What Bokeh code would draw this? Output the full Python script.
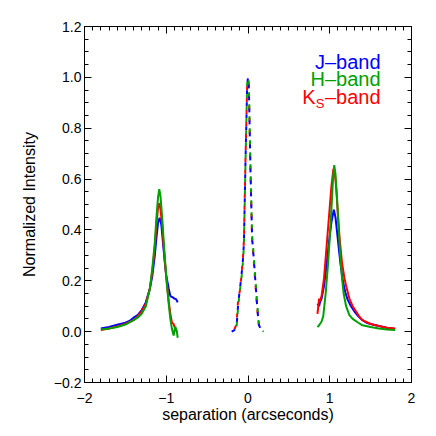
from bokeh.plotting import figure
from bokeh.models import (Range1d, LinearAxis, FixedTicker, Label,
                          CustomJSTickFormatter)
from bokeh.embed import file_html
from bokeh.resources import INLINE

# ---------------- data ----------------
# left companion (around -1.07")
sep_left_J = [-1.80, -1.70, -1.60, -1.50, -1.45, -1.40, -1.35, -1.30, -1.25, -1.20, -1.17, -1.14,
              -1.12, -1.10, -1.08, -1.06, -1.04, -1.02, -1.00, -0.97, -0.95, -0.92, -0.90, -0.88, -0.86]
int_left_J = [0.012, 0.018, 0.027, 0.035, 0.042, 0.055, 0.065, 0.085, 0.115, 0.17, 0.22, 0.30,
              0.37, 0.43, 0.448, 0.42, 0.35, 0.28, 0.22, 0.17, 0.14, 0.135, 0.13, 0.128, 0.115]
sep_left_H = [-1.80, -1.70, -1.60, -1.50, -1.40, -1.35, -1.30, -1.25, -1.20, -1.17, -1.14, -1.12,
              -1.10, -1.085, -1.07, -1.05, -1.03, -1.01, -0.99, -0.97, -0.95, -0.93, -0.91, -0.89, -0.87, -0.86]
int_left_H = [0.008, 0.012, 0.018, 0.028, 0.045, 0.055, 0.07, 0.10, 0.17, 0.25, 0.35, 0.45,
              0.53, 0.56, 0.53, 0.45, 0.35, 0.26, 0.18, 0.11, 0.05, 0.01, -0.015, 0.02, 0.0, -0.024]
sep_left_K = [-1.80, -1.70, -1.60, -1.50, -1.40, -1.35, -1.30, -1.25, -1.20, -1.17, -1.14, -1.12,
              -1.10, -1.085, -1.07, -1.05, -1.03, -1.01, -0.99, -0.97, -0.95, -0.93, -0.91, -0.89, -0.87]
int_left_K = [0.006, 0.012, 0.02, 0.03, 0.045, 0.06, 0.08, 0.11, 0.17, 0.24, 0.33, 0.42,
              0.49, 0.505, 0.48, 0.42, 0.33, 0.25, 0.18, 0.12, 0.07, 0.035, 0.03, 0.01, 0.0]

# central star (dashed)
sep_c = [-0.20, -0.17, -0.14, -0.12, -0.10, -0.08, -0.06, -0.05, -0.03, -0.01, 0.0,
         0.01, 0.03, 0.05, 0.07, 0.09, 0.11, 0.13, 0.16, 0.19]
int_c_J = [0.0, 0.005, 0.02, 0.11, 0.165, 0.22, 0.29, 0.35, 0.68, 0.97, 1.0,
           0.97, 0.64, 0.37, 0.29, 0.20, 0.11, 0.03, 0.005, 0.0]
int_c_H = [0.0, 0.004, 0.02, 0.10, 0.16, 0.21, 0.28, 0.34, 0.67, 0.98, 1.0,
           0.98, 0.66, 0.38, 0.30, 0.21, 0.12, 0.04, 0.01, 0.0]
int_c_K = [0.0, 0.006, 0.03, 0.13, 0.16, 0.22, 0.30, 0.36, 0.69, 0.97, 0.99,
           0.96, 0.63, 0.36, 0.28, 0.19, 0.10, 0.03, 0.005, 0.0]

# right companion (around +1.05")
sep_right_J = [0.85, 0.87, 0.88, 0.90, 0.93, 0.96, 0.99, 1.02, 1.05, 1.07, 1.10, 1.13, 1.16,
               1.19, 1.22, 1.26, 1.30, 1.35, 1.40, 1.45, 1.50, 1.60, 1.70, 1.80]
int_right_J = [0.11, 0.10, 0.115, 0.13, 0.18, 0.26, 0.35, 0.43, 0.48, 0.45, 0.36, 0.27, 0.20,
               0.155, 0.125, 0.10, 0.08, 0.06, 0.045, 0.035, 0.03, 0.022, 0.015, 0.01]
sep_right_H = [0.85, 0.87, 0.90, 0.92, 0.95, 0.98, 1.00, 1.02, 1.04, 1.055, 1.07, 1.09, 1.11,
               1.13, 1.15, 1.17, 1.20, 1.24, 1.28, 1.35, 1.40, 1.50, 1.60, 1.70, 1.80]
int_right_H = [0.018, 0.025, 0.04, 0.06, 0.15, 0.27, 0.37, 0.48, 0.60, 0.655, 0.62, 0.52, 0.40,
               0.29, 0.21, 0.15, 0.10, 0.065, 0.05, 0.035, 0.025, 0.018, 0.012, 0.008, 0.006]
sep_right_K = [0.85, 0.86, 0.87, 0.88, 0.90, 0.93, 0.96, 0.99, 1.02, 1.045, 1.06, 1.08, 1.10,
               1.12, 1.15, 1.18, 1.20, 1.24, 1.28, 1.32, 1.36, 1.40, 1.50, 1.60, 1.70, 1.80]
int_right_K = [0.07, 0.10, 0.13, 0.12, 0.14, 0.21, 0.33, 0.45, 0.57, 0.64, 0.63, 0.56, 0.46,
               0.37, 0.27, 0.21, 0.18, 0.13, 0.10, 0.08, 0.06, 0.045, 0.03, 0.022, 0.015, 0.012]

x_ticks = [-2, -1, 0, 1, 2]
y_ticks = [-0.2, 0.0, 0.2, 0.4, 0.6, 0.8, 1.0, 1.2]
x_minor = [round(-2 + 0.1 * i, 2) for i in range(41)]
y_minor = [round(-0.2 + 0.05 * i, 3) for i in range(29)]

BLUE = "#0000ff"
GREEN = "#00a000"
RED = "#ff0000"
FONT = "Liberation Sans"

# ---------------- figure ----------------
p = figure(width=436, height=436, output_backend="svg", toolbar_location=None,
           x_range=Range1d(x_ticks[0], x_ticks[-1]), y_range=Range1d(y_ticks[0], y_ticks[-1]),
           min_border_left=84, min_border_right=25, min_border_top=26, min_border_bottom=54)
p.grid.visible = False
p.outline_line_color = "black"
p.outline_line_width = 1
p.background_fill_color = "white"
p.border_fill_color = "white"

xfmt = CustomJSTickFormatter(code="return (tick < 0 ? '\u2212' : '') + Math.abs(tick).toFixed(0);")
yfmt = CustomJSTickFormatter(code="return (tick < -1e-9 ? '\u2212' : '') + Math.abs(tick).toFixed(1);")
blankfmt = CustomJSTickFormatter(code="return '';")


def style_axis(ax):
    ax.axis_line_color = "black"
    ax.major_tick_in = 7
    ax.major_tick_out = 0
    ax.minor_tick_in = 4
    ax.minor_tick_out = 0
    ax.major_tick_line_color = "black"
    ax.minor_tick_line_color = "black"
    ax.major_label_text_font = FONT
    ax.major_label_text_font_size = "14px"
    ax.major_label_text_color = "black"
    ax.axis_label_text_font = FONT
    ax.axis_label_text_font_style = "normal"
    ax.axis_label_text_font_size = "16px"
    ax.axis_label_text_color = "black"


p.xaxis.ticker = FixedTicker(ticks=x_ticks, minor_ticks=x_minor)
p.yaxis.ticker = FixedTicker(ticks=y_ticks, minor_ticks=y_minor)
p.xaxis.formatter = xfmt
p.yaxis.formatter = yfmt
p.xaxis.axis_label = "separation (arcseconds)"
p.yaxis.axis_label = "Normalized Intensity"
style_axis(p.xaxis[0])
style_axis(p.yaxis[0])
p.xaxis.major_label_standoff = 10
p.xaxis.axis_label_standoff = 0
p.yaxis.major_label_standoff = 3
p.yaxis.axis_label_standoff = 13

top_ax = LinearAxis(ticker=FixedTicker(ticks=x_ticks, minor_ticks=x_minor), formatter=blankfmt)
right_ax = LinearAxis(ticker=FixedTicker(ticks=y_ticks, minor_ticks=y_minor), formatter=blankfmt)
style_axis(top_ax)
style_axis(right_ax)
top_ax.major_label_standoff = 0
right_ax.major_label_standoff = 0
p.add_layout(top_ax, "above")
p.add_layout(right_ax, "right")

# ---------------- curves ----------------
lw = 2
p.line(sep_left_J, int_left_J, color=BLUE, line_width=lw)
p.line(sep_left_K, int_left_K, color=RED, line_width=lw)
p.line(sep_left_H, int_left_H, color=GREEN, line_width=lw)

p.line(sep_right_J, int_right_J, color=BLUE, line_width=lw)
p.line(sep_right_K, int_right_K, color=RED, line_width=lw)
p.line(sep_right_H, int_right_H, color=GREEN, line_width=lw)

p.line(sep_c, int_c_K, color=RED, line_width=lw, line_dash="4 8", line_dash_offset=8)
p.line(sep_c, int_c_J, color=BLUE, line_width=lw, line_dash="4 8", line_dash_offset=0)
p.line(sep_c, int_c_H, color=GREEN, line_width=lw, line_dash="4 8", line_dash_offset=4)

# ---------------- legend (text) ----------------
leg_x = 1.621
p.add_layout(Label(x=leg_x, y=1.062, text="J\u2013band", text_color=BLUE, text_font=FONT,
                   text_font_size="20px", text_align="right", text_baseline="alphabetic"))
p.add_layout(Label(x=leg_x, y=0.995, text="H\u2013band", text_color=GREEN, text_font=FONT,
                   text_font_size="20px", text_align="right", text_baseline="alphabetic"))
p.add_layout(Label(x=leg_x, y=0.924, text="\u2013band", text_color=RED, text_font=FONT,
                   text_font_size="20px", text_align="right", text_baseline="alphabetic"))
p.add_layout(Label(x=0.936, y=0.898, text="S", text_color=RED, text_font=FONT,
                   text_font_size="13px", text_align="right", text_baseline="alphabetic"))
p.add_layout(Label(x=0.826, y=0.924, text="K", text_color=RED, text_font=FONT,
                   text_font_size="20px", text_align="right", text_baseline="alphabetic"))

open("out.html", "w").write(file_html(p, INLINE))
